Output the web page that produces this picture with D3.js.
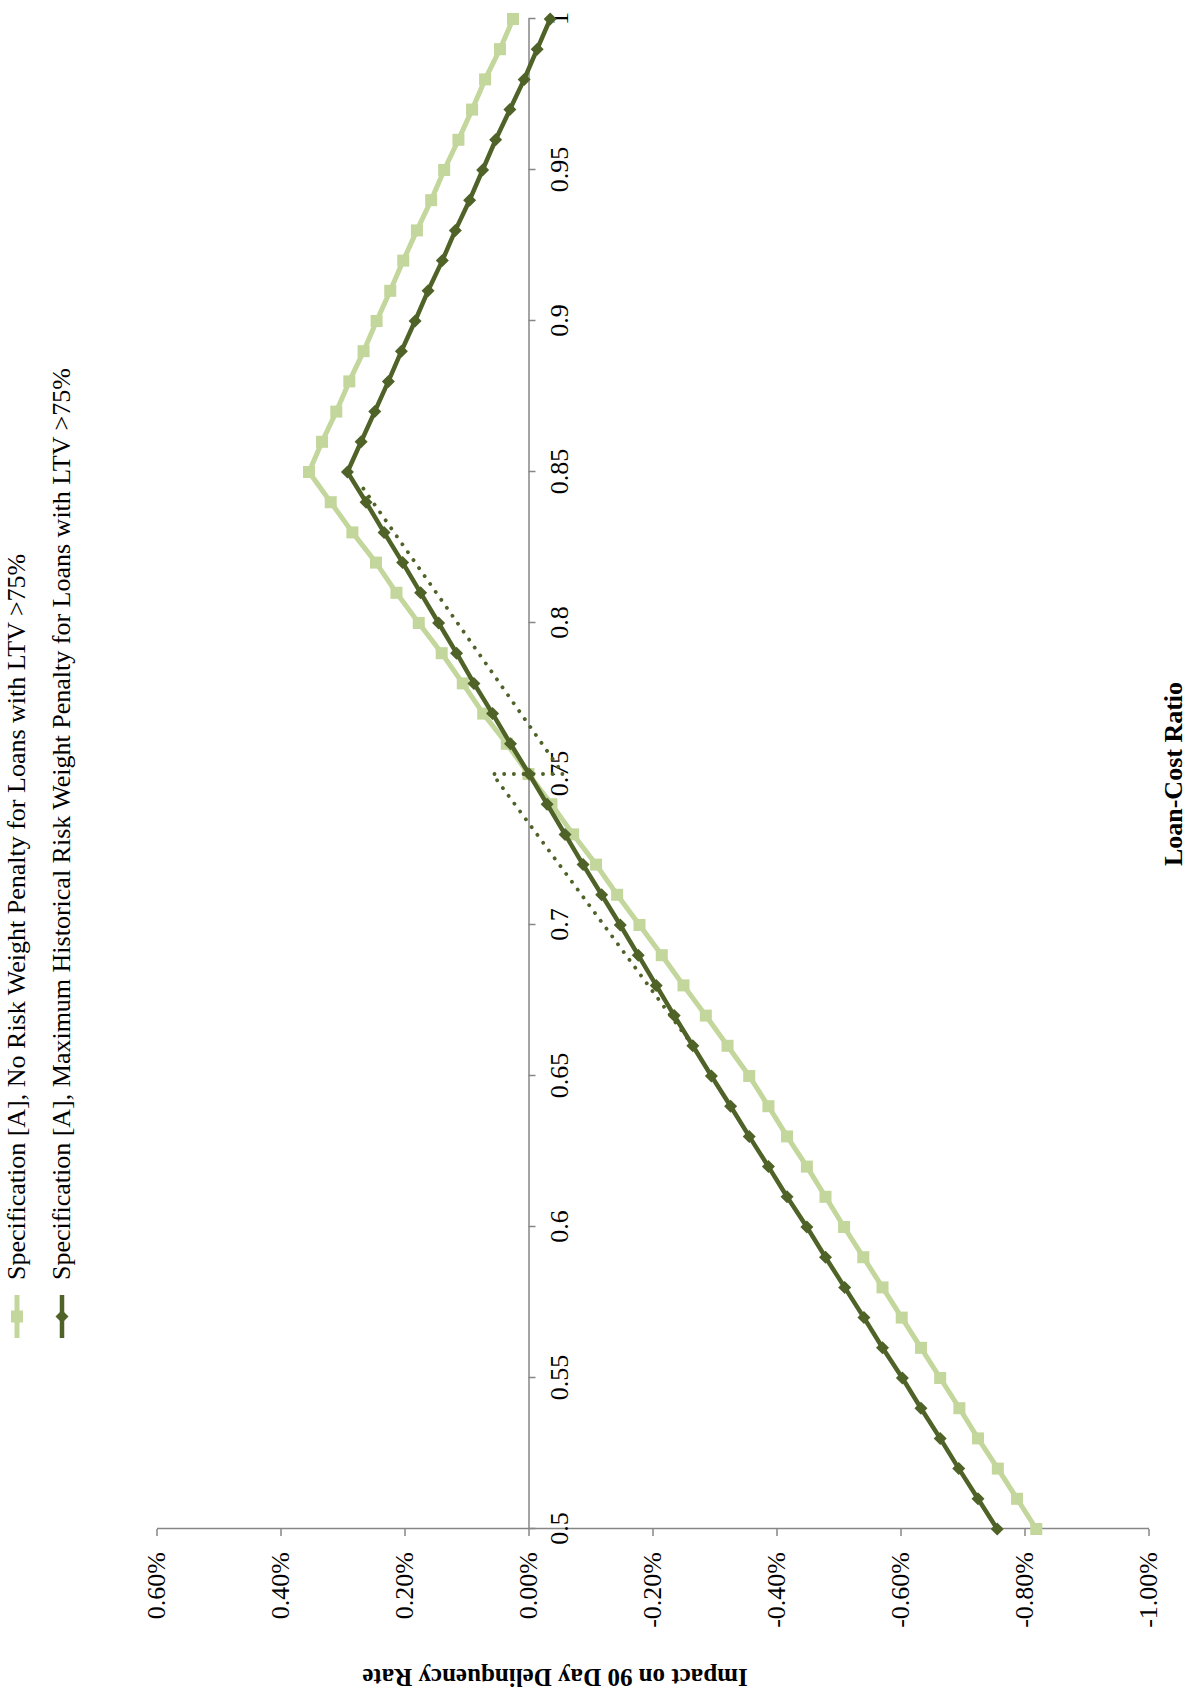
<!DOCTYPE html>
<html>
<head>
<meta charset="utf-8">
<script src="https://cdn.jsdelivr.net/npm/d3@7"></script>
<style>
  body { margin: 0; background: #fff; }
  text { font-family: "Liberation Serif", "Times New Roman", serif; fill: #000; }
</style>
</head>
<body>
<div id="d3Chart"></div>
<script>
const loanCostRatio = [
    0.50, 0.51, 0.52, 0.53, 0.54, 0.55, 0.56, 0.57, 0.58, 0.59,
    0.60, 0.61, 0.62, 0.63, 0.64, 0.65, 0.66, 0.67, 0.68, 0.69,
    0.70, 0.71, 0.72, 0.73, 0.74, 0.75, 0.76, 0.77, 0.78, 0.79,
    0.80, 0.81, 0.82, 0.83, 0.84, 0.85, 0.86, 0.87, 0.88, 0.89,
    0.90, 0.91, 0.92, 0.93, 0.94, 0.95, 0.96, 0.97, 0.98, 0.99, 1.00
];

// impact on 90 day delinquency rate, in percent
const noPenalty = [
    -0.819, -0.788, -0.757, -0.725, -0.695, -0.664, -0.633, -0.602, -0.571, -0.540,
    -0.509, -0.479, -0.449, -0.417, -0.387, -0.356, -0.321, -0.286, -0.250, -0.215,
    -0.179, -0.143, -0.109, -0.072, -0.037, 0.000, 0.035, 0.073, 0.106, 0.140,
    0.177, 0.213, 0.246, 0.284, 0.319, 0.354, 0.333, 0.310, 0.289, 0.266,
    0.245, 0.223, 0.202, 0.180, 0.157, 0.136, 0.113, 0.091, 0.070, 0.046, 0.025
];

const maxPenalty = [
    -0.756, -0.725, -0.694, -0.664, -0.633, -0.603, -0.571, -0.541, -0.510, -0.479,
    -0.449, -0.417, -0.387, -0.356, -0.326, -0.295, -0.265, -0.235, -0.206, -0.177,
    -0.148, -0.118, -0.088, -0.059, -0.030, -0.001, 0.029, 0.058, 0.088, 0.116,
    0.145, 0.174, 0.203, 0.233, 0.262, 0.292, 0.270, 0.248, 0.226, 0.205,
    0.183, 0.162, 0.139, 0.118, 0.095, 0.074, 0.053, 0.030, 0.007, -0.014, -0.035
];

// dotted guide around the 0.75 cut-off
const jumpRatio = [0.66, 0.75, 0.75, 0.845];
const jumpImpact = [-0.265, 0.058, -0.056, 0.268];

const valueTicks = [0.6, 0.4, 0.2, 0, -0.2, -0.4, -0.6, -0.8, -1.0];
const valueTickLabels = ["0.60%", "0.40%", "0.20%", "0.00%", "-0.20%", "-0.40%", "-0.60%", "-0.80%", "-1.00%"];
const ratioTicks = [0.5, 0.55, 0.6, 0.65, 0.7, 0.75, 0.8, 0.85, 0.9, 0.95, 1];
const ratioTickLabels = ["0.5", "0.55", "0.6", "0.65", "0.7", "0.75", "0.8", "0.85", "0.9", "0.95", "1"];

const seriesNames = [
    "Specification [A], No Risk Weight Penalty for Loans with LTV >75%",
    "Specification [A], Maximum Historical Risk Weight Penalty for Loans with LTV >75%"
];

const createD3Chart = () => {
    const pageWidth = 1191;
    const pageHeight = 1700;
    const lightGreen = "#C3D69B";
    const darkGreen = "#4F6228";
    const axisGrey = "#868686";

    d3.select("#d3Chart").selectAll("*").remove();

    const svg = d3.select("#d3Chart")
        .append("svg")
        .attr("width", pageWidth)
        .attr("height", pageHeight);

    svg.append("rect")
        .attr("width", pageWidth)
        .attr("height", pageHeight)
        .attr("fill", "#fff");

    // the chart is laid out landscape and then turned a quarter turn anticlockwise
    const g = svg.append("g")
        .attr("transform", `translate(0, ${pageHeight}) rotate(-90)`);

    const x = d3.scaleLinear().domain([0.5, 1]).range([171, 1681]);
    const y = d3.scaleLinear().domain([-1, 0.6]).range([1148.5, 156.5]);

    const yAxis = d3.axisLeft(y)
        .tickValues(valueTicks)
        .tickFormat(d => valueTickLabels[valueTicks.indexOf(d)])
        .tickSizeInner(7)
        .tickSizeOuter(0)
        .tickPadding(16);

    const xAxis = d3.axisBottom(x)
        .tickValues(ratioTicks)
        .tickFormat(d => ratioTickLabels[ratioTicks.indexOf(d)])
        .tickSizeInner(7)
        .tickSizeOuter(0)
        .tickPadding(14);

    const yAxisG = g.append("g")
        .attr("transform", `translate(${x(0.5)}, 0)`)
        .call(yAxis);

    const xAxisG = g.append("g")
        .attr("transform", `translate(0, ${y(0)})`)
        .call(xAxis);

    [yAxisG, xAxisG].forEach(a => {
        a.select(".domain").attr("stroke", axisGrey).attr("stroke-width", 1.5);
        a.selectAll(".tick line").attr("stroke", axisGrey).attr("stroke-width", 1.5);
        a.selectAll(".tick text")
            .attr("fill", "#000")
            .style("font-family", '"Liberation Serif", serif')
            .style("font-size", "26px");
    });

    const line = d3.line()
        .x(d => x(d[0]))
        .y(d => y(d[1]));

    const lightData = loanCostRatio.map((r, i) => [r, noPenalty[i]]);
    const darkData = loanCostRatio.map((r, i) => [r, maxPenalty[i]]);
    const jumpData = jumpRatio.map((r, i) => [r, jumpImpact[i]]);

    g.append("path")
        .datum(lightData)
        .attr("d", line)
        .attr("fill", "none")
        .attr("stroke", lightGreen)
        .attr("stroke-width", 5)
        .attr("stroke-linejoin", "round");

    g.selectAll(".sq")
        .data(lightData)
        .enter()
        .append("rect")
        .attr("class", "sq")
        .attr("x", d => x(d[0]) - 6)
        .attr("y", d => y(d[1]) - 6)
        .attr("width", 12)
        .attr("height", 12)
        .attr("fill", lightGreen);

    g.append("path")
        .datum(jumpData)
        .attr("d", line)
        .attr("fill", "none")
        .attr("stroke", darkGreen)
        .attr("stroke-width", 3.8)
        .attr("stroke-linecap", "round")
        .attr("stroke-dasharray", "0.1 9.6");

    g.append("path")
        .datum(darkData)
        .attr("d", line)
        .attr("fill", "none")
        .attr("stroke", darkGreen)
        .attr("stroke-width", 4.5)
        .attr("stroke-linejoin", "round");

    const diamond = s => `M0,${-s}L${s},0L0,${s}L${-s},0Z`;

    g.selectAll(".dm")
        .data(darkData)
        .enter()
        .append("path")
        .attr("class", "dm")
        .attr("d", diamond(6.5))
        .attr("transform", d => `translate(${x(d[0])}, ${y(d[1])})`)
        .attr("fill", darkGreen);

    // legend
    const legendRows = [17, 62];
    const legend = g.selectAll(".legend")
        .data(seriesNames)
        .enter()
        .append("g")
        .attr("class", "legend")
        .attr("transform", (d, i) => `translate(362, ${legendRows[i]})`);

    legend.append("line")
        .attr("x1", 0)
        .attr("x2", 43)
        .attr("stroke", (d, i) => i === 0 ? lightGreen : darkGreen)
        .attr("stroke-width", (d, i) => i === 0 ? 5 : 4.5);

    legend.append("path")
        .attr("d", (d, i) => i === 0 ? "M-6,-6h12v12h-12Z" : diamond(6.5))
        .attr("transform", "translate(21.5, 0)")
        .attr("fill", (d, i) => i === 0 ? lightGreen : darkGreen);

    legend.append("text")
        .attr("x", 58)
        .attr("dy", "0.32em")
        .style("font-size", "26px")
        .text(d => d);

    // axis titles
    g.append("text")
        .attr("transform", "translate(31, 555) rotate(-90)")
        .attr("text-anchor", "middle")
        .style("font-size", "25px")
        .style("font-weight", "bold")
        .text("Impact on 90 Day Delinquency Rate");

    g.append("text")
        .attr("x", 926)
        .attr("y", 1182)
        .attr("text-anchor", "middle")
        .style("font-size", "26px")
        .style("font-weight", "bold")
        .text("Loan-Cost Ratio");
};

createD3Chart();
</script>
</body>
</html>
